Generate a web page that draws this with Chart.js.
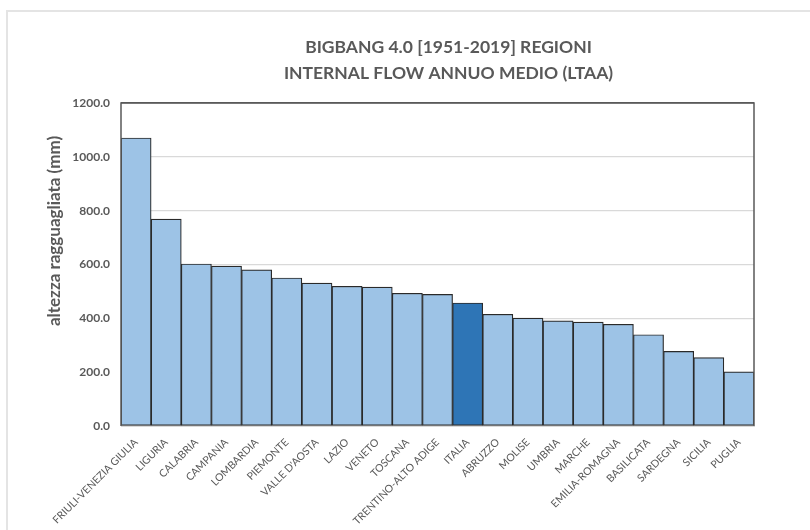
<!DOCTYPE html>
<html>
<head>
<meta charset="utf-8">
<script src="https://cdn.jsdelivr.net/npm/chart.js@4"></script>
<style>
  body { margin: 0; background: #fff; }
  #frame { position: absolute; left: 6px; top: 10px; width: 900px; height: 600px;
           border-left: 2px solid #e4e4e4; border-top: 2px solid #e4e4e4; }
  #wrap { position: absolute; left: 0; top: 0; width: 810px; height: 530px; }
</style>
</head>
<body>
<div id="frame"></div>
<div id="wrap"><canvas id="chart" width="810" height="530"></canvas></div>
<script>
const titleLines = ['BIGBANG 4.0 [1951-2019] REGIONI', 'INTERNAL FLOW ANNUO MEDIO (LTAA)'];
const yTitle = 'altezza ragguagliata (mm)';

const regions = ['FRIULI-VENEZIA GIULIA', 'LIGURIA', 'CALABRIA', 'CAMPANIA', 'LOMBARDIA', 'PIEMONTE',
  "VALLE D'AOSTA", 'LAZIO', 'VENETO', 'TOSCANA', 'TRENTINO-ALTO ADIGE', 'ITALIA', 'ABRUZZO',
  'MOLISE', 'UMBRIA', 'MARCHE', 'EMILIA-ROMAGNA', 'BASILICATA', 'SARDEGNA', 'SICILIA', 'PUGLIA'];
const flow = [1070, 769, 602, 594, 580, 550, 531, 519, 516, 493, 489, 457, 415,
  401, 391, 386, 378, 339, 277, 254, 201];
const yTicks = [0, 200, 400, 600, 800, 1000, 1200];

const gray = '#595959';
const font = 'Lato, "Open Sans", sans-serif';

// title and axis title drawn by hand, Excel puts them off-centre
const textPlugin = {
    id: 'texts',
    afterDraw(chart) {
        const ctx = chart.ctx;
        const a = chart.chartArea;
        ctx.save();
        // plot frame (top, right, left)
        ctx.strokeStyle = gray;
        ctx.lineWidth = 1.5;
        ctx.beginPath();
        ctx.moveTo(a.left, a.bottom);
        ctx.lineTo(a.left, a.top);
        ctx.lineTo(a.right, a.top);
        ctx.lineTo(a.right, a.bottom);
        ctx.stroke();

        ctx.fillStyle = gray;
        ctx.textAlign = 'center';
        ctx.textBaseline = 'alphabetic';
        ctx.font = 'bold 17.5px ' + font;
        const cx = (a.left + a.right) / 2 + 11;
        ctx.fillText(titleLines[0], cx, 53);
        ctx.fillText(titleLines[1], cx, 79);

        ctx.translate(55, 231);
        ctx.rotate(-Math.PI / 2);
        ctx.textBaseline = 'middle';
        ctx.font = 'bold 17px ' + font;
        ctx.fillText(yTitle, 0, 0);
        ctx.restore();
    }
};

new Chart(document.getElementById('chart'), {
    type: 'bar',
    data: {
        labels: regions,
        datasets: [{
            data: flow,
            backgroundColor: regions.map(r => r === 'ITALIA' ? '#2e75b6' : '#9dc3e6'),
            borderColor: '#2a2a2a',
            borderWidth: 1.2,
            borderSkipped: false,
            barPercentage: 1,
            categoryPercentage: 1
        }]
    },
    options: {
        responsive: false,
        animation: false,
        layout: { padding: { top: 103, right: 56, bottom: 0, left: 0 } },
        plugins: {
            legend: { display: false },
            title: { display: false },
            tooltip: { enabled: false }
        },
        scales: {
            x: {
                grid: { display: false },
                border: { display: true, color: '#d9d9d9' },
                ticks: {
                    color: gray,
                    font: { family: font, size: 10.5 },
                    minRotation: 45,
                    maxRotation: 45,
                    autoSkip: false,
                    padding: 2
                },
                afterFit(scale) { scale.height = 104; }
            },
            y: {
                min: 0,
                max: 1200,
                afterBuildTicks(scale) { scale.ticks = yTicks.map(v => ({ value: v })); },
                grid: {
                    color: ctx => ctx.tick && ctx.tick.value === 1200 ? gray : '#d9d9d9',
                    lineWidth: 1.2,
                    drawTicks: false
                },
                border: { display: false },
                ticks: {
                    color: gray,
                    font: { family: font, size: 12, weight: 'bold' },
                    padding: 11,
                    callback: v => v.toFixed(1)
                },
                afterFit(scale) { scale.width = 121; }
            }
        }
    },
    plugins: [textPlugin]
});
</script>
</body>
</html>
